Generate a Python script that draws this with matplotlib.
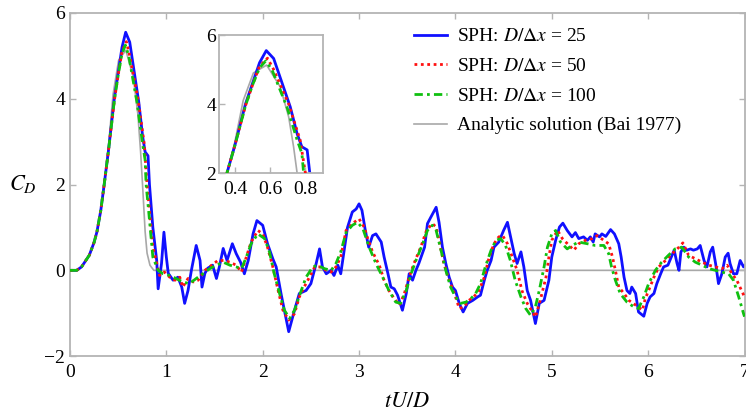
"""Drag coefficient history: SPH at three resolutions vs analytic solution."""

import matplotlib
matplotlib.use("Agg")
import matplotlib.pyplot as plt

plt.rcParams["font.family"] = ["Liberation Serif", "DejaVu Serif"]
plt.rcParams["mathtext.fontset"] = "stix"

# SPH: D/dx = 25
blue_t = [0.00, 0.07, 0.12, 0.20, 0.25, 0.28, 0.32, 0.355, 0.40, 0.46, 0.50, 0.54,
          0.578, 0.62, 0.714, 0.753, 0.78, 0.81, 0.825, 0.86, 0.90, 0.915, 0.95,
          0.975, 1.00, 1.02, 1.07, 1.12, 1.16, 1.19, 1.225, 1.26, 1.31, 1.35, 1.37,
          1.40, 1.43, 1.48, 1.52, 1.55, 1.59, 1.63, 1.685, 1.725, 1.77, 1.81, 1.85,
          1.90, 1.94, 2.00, 2.05, 2.105, 2.14, 2.19, 2.24, 2.27, 2.33, 2.38, 2.45,
          2.50, 2.555, 2.59, 2.62, 2.66, 2.71, 2.74, 2.78, 2.81, 2.85, 2.88, 2.93,
          2.97, 3.00, 3.03, 3.065, 3.10, 3.14, 3.175, 3.23, 3.26, 3.30, 3.33, 3.365,
          3.40, 3.45, 3.49, 3.52, 3.555, 3.59, 3.62, 3.68, 3.71, 3.745, 3.80, 3.83,
          3.865, 3.90, 3.935, 3.97, 4.00, 4.04, 4.08, 4.125, 4.18, 4.23, 4.26, 4.30,
          4.33, 4.37, 4.40, 4.45, 4.50, 4.54, 4.57, 4.61, 4.64, 4.68, 4.71, 4.745,
          4.78, 4.83, 4.87, 4.92, 4.97, 5.00, 5.04, 5.08, 5.115, 5.16, 5.21, 5.245,
          5.28, 5.33, 5.37, 5.40, 5.43, 5.45, 5.495, 5.52, 5.56, 5.61, 5.65, 5.695,
          5.72, 5.75, 5.78, 5.81, 5.83, 5.87, 5.90, 5.955, 5.99, 6.02, 6.06, 6.09,
          6.13, 6.16, 6.205, 6.24, 6.27, 6.30, 6.32, 6.34, 6.37, 6.40, 6.44, 6.47,
          6.51, 6.54, 6.58, 6.61, 6.645, 6.67, 6.70, 6.73, 6.765, 6.80, 6.83, 6.85,
          6.885, 6.92, 6.955, 6.99, 7.00]
blue_cd = [0.00, 0.00, 0.08, 0.35, 0.65, 0.90, 1.40, 2.00, 2.80, 4.00, 4.60, 5.20,
           5.55, 5.32, 3.92, 3.14, 2.76, 2.67, 2.00, 1.00, 0.23, -0.43, 0.16,
           0.89, 0.31, -0.07, -0.23, -0.16, -0.39, -0.77, -0.47, 0.00, 0.58, 0.23, -0.39,
           -0.07, 0.05, 0.12, -0.19, 0.08, 0.51, 0.23, 0.62, 0.39, 0.19, -0.08, 0.23,
           0.85, 1.16, 1.05, 0.62, 0.27, 0.08, -0.54, -1.09, -1.43, -0.93, -0.54, -0.47,
           -0.31, 0.16, 0.50, 0.08, -0.08, 0.00, -0.12, 0.12, -0.08, 0.54, 1.00, 1.36,
           1.43, 1.55, 1.40, 0.93, 0.54, 0.81, 0.85, 0.66, 0.31, -0.08, -0.39, -0.43,
           -0.58, -0.93, -0.54, -0.08, -0.23, 0.00, 0.16, 0.54, 1.09, 1.24, 1.47, 1.12,
           0.54, 0.16, -0.16, -0.39, -0.47, -0.77, -0.97, -0.77, -0.70, -0.62, -0.58, -0.23,
           0.00, 0.23, 0.54, 0.66, 0.93, 1.12, 0.81, 0.39, 0.16, 0.43, 0.08, -0.47,
           -0.70, -1.24, -0.77, -0.70, -0.23, 0.31, 0.70, 1.01, 1.10, 0.93, 0.78, 0.88,
           0.74, 0.78, 0.70, 0.78, 0.66, 0.85, 0.78, 0.85, 0.79, 0.95, 0.85, 0.62,
           0.31, -0.16, -0.47, -0.54, -0.39, -0.54, -0.97, -1.07, -0.77, -0.62, -0.54, -0.31,
           -0.08, 0.08, 0.12, 0.31, 0.47, 0.16, 0.00, 0.43, 0.54, 0.47, 0.50, 0.47,
           0.50, 0.58, 0.23, 0.08, 0.43, 0.54, 0.16, -0.31, -0.08, 0.31, 0.40, 0.16,
           -0.08, -0.08, 0.23, 0.08, 0.10]

# SPH: D/dx = 50
red_t = [0.00, 0.07, 0.12, 0.20, 0.25, 0.28, 0.32, 0.355, 0.40, 0.46, 0.50, 0.54,
         0.585, 0.62, 0.705, 0.77, 0.80, 0.82, 0.86, 0.90, 0.93, 0.98, 1.035, 1.09,
         1.14, 1.17, 1.225, 1.28, 1.33, 1.40, 1.47, 1.535, 1.60, 1.66, 1.725, 1.78,
         1.83, 1.88, 1.95, 2.00, 2.05, 2.105, 2.16, 2.21, 2.27, 2.33, 2.38, 2.43,
         2.485, 2.54, 2.59, 2.66, 2.71, 2.76, 2.81, 2.865, 2.93, 3.00, 3.055, 3.09,
         3.14, 3.21, 3.26, 3.31, 3.365, 3.42, 3.47, 3.52, 3.57, 3.64, 3.70, 3.76,
         3.80, 3.83, 3.88, 3.935, 3.99, 4.04, 4.09, 4.14, 4.19, 4.245, 4.30, 4.35,
         4.40, 4.45, 4.49, 4.54, 4.59, 4.64, 4.69, 4.745, 4.80, 4.83, 4.88, 4.94,
         4.97, 5.00, 5.06, 5.11, 5.18, 5.23, 5.28, 5.35, 5.42, 5.47, 5.54, 5.59,
         5.63, 5.66, 5.695, 5.75, 5.80, 5.87, 5.94, 5.97, 6.005, 6.06, 6.11, 6.18,
         6.25, 6.32, 6.36, 6.42, 6.49, 6.56, 6.63, 6.70, 6.765, 6.82, 6.87, 6.92,
         6.97, 7.00]
red_cd = [0.00, 0.00, 0.08, 0.35, 0.65, 0.90, 1.40, 2.00, 2.80, 3.95, 4.55, 5.10,
          5.33, 5.00, 4.00, 2.96, 2.00, 1.50, 0.55, 0.16, -0.12, -0.04, -0.16, -0.23,
          -0.16, -0.39, -0.19, -0.27, -0.23, 0.00, 0.12, 0.23, 0.23, 0.19, 0.12, -0.04,
          0.31, 0.66, 0.93, 0.85, 0.54, 0.08, -0.47, -0.93, -1.16, -1.01, -0.62, -0.39,
          -0.16, 0.08, 0.08, 0.00, -0.04, 0.08, 0.31, 0.93, 1.09, 1.20, 1.00, 0.74,
          0.43, 0.12, -0.23, -0.47, -0.66, -0.81, -0.54, -0.16, 0.16, 0.54, 0.93, 1.09,
          1.01, 0.70, 0.16, -0.23, -0.54, -0.89, -0.85, -0.70, -0.62, -0.47, -0.16, 0.31,
          0.62, 0.78, 0.81, 0.62, 0.31, 0.00, -0.47, -0.77, -0.97, -1.09, -0.70, -0.16,
          0.31, 0.70, 0.93, 0.74, 0.58, 0.47, 0.62, 0.70, 0.74, 0.81, 0.70, 0.62,
          0.31, 0.00, -0.39, -0.54, -0.70, -0.81, -0.93, -0.66, -0.47, -0.16, 0.08, 0.23,
          0.39, 0.54, 0.64, 0.35, 0.27, 0.19, 0.12, 0.08, 0.04, 0.12, -0.08, -0.23,
          -0.47, -0.62]

# SPH: D/dx = 100
green_t = [0.00, 0.07, 0.12, 0.20, 0.25, 0.28, 0.32, 0.355, 0.40, 0.46, 0.50, 0.54,
           0.575, 0.61, 0.695, 0.753, 0.78, 0.79, 0.82, 0.86, 0.915, 0.966, 1.035, 1.10,
           1.17, 1.24, 1.31, 1.38, 1.45, 1.52, 1.59, 1.66, 1.725, 1.78, 1.83, 1.88,
           1.95, 2.02, 2.07, 2.12, 2.175, 2.225, 2.28, 2.33, 2.40, 2.45, 2.52, 2.57,
           2.64, 2.71, 2.76, 2.81, 2.865, 2.93, 2.985, 3.04, 3.105, 3.175, 3.245, 3.31,
           3.38, 3.43, 3.49, 3.54, 3.59, 3.66, 3.71, 3.76, 3.80, 3.85, 3.90, 3.95,
           4.00, 4.055, 4.11, 4.16, 4.21, 4.26, 4.31, 4.37, 4.42, 4.47, 4.52, 4.57,
           4.62, 4.68, 4.73, 4.78, 4.83, 4.87, 4.92, 4.955, 5.00, 5.04, 5.09, 5.16,
           5.21, 5.28, 5.37, 5.45, 5.54, 5.59, 5.62, 5.66, 5.71, 5.78, 5.85, 5.90,
           5.955, 6.005, 6.075, 6.14, 6.21, 6.28, 6.35, 6.42, 6.49, 6.56, 6.63, 6.70,
           6.765, 6.835, 6.885, 6.94, 6.99, 7.00]
green_cd = [0.00, 0.00, 0.08, 0.35, 0.65, 0.90, 1.40, 2.00, 2.80, 3.95, 4.55, 5.05,
            5.25, 5.00, 3.92, 2.96, 2.57, 2.00, 1.30, 0.31, 0.00, -0.08, -0.12, -0.19,
            -0.27, -0.31, -0.19, -0.08, 0.04, 0.12, 0.19, 0.12, 0.08, 0.04, 0.31, 0.62,
            0.85, 0.74, 0.43, -0.08, -0.54, -0.93, -1.12, -0.93, -0.47, -0.16, 0.08, 0.12,
            0.04, 0.00, 0.16, 0.43, 0.88, 1.05, 1.12, 0.97, 0.54, 0.16, -0.16, -0.47,
            -0.74, -0.77, -0.47, -0.08, 0.23, 0.62, 0.93, 1.05, 0.93, 0.47, 0.00, -0.39,
            -0.62, -0.77, -0.74, -0.66, -0.54, -0.31, 0.08, 0.47, 0.70, 0.74, 0.58, 0.23,
            -0.23, -0.62, -0.89, -1.05, -0.85, -0.47, 0.08, 0.54, 0.85, 0.93, 0.66, 0.50,
            0.58, 0.66, 0.62, 0.58, 0.58, 0.39, 0.08, -0.23, -0.54, -0.74, -0.85, -0.89,
            -0.62, -0.31, 0.00, 0.19, 0.35, 0.50, 0.54, 0.31, 0.19, 0.12, 0.04, 0.00,
            -0.04, -0.08, -0.23, -0.62, -1.01, -1.08]

# Analytic solution (Bai 1977)
bai_t = [0.00, 0.07, 0.12, 0.20, 0.25, 0.28, 0.32, 0.355, 0.40, 0.447, 0.505, 0.58,
         0.657, 0.705, 0.733, 0.753, 0.78, 0.80, 0.83, 0.87, 7.00]
bai_cd = [0.00, 0.00, 0.08, 0.35, 0.65, 0.90, 1.40, 2.00, 2.90, 4.10, 4.90, 5.13,
          4.50, 3.63, 2.76, 2.00, 0.90, 0.40, 0.12, 0.00, 0.00]

SPINE = "#b4b4b4"


def draw(ax):
    ax.plot(bai_t, bai_cd, color="#a8a8a8", lw=1.2, zorder=1)
    hb, = ax.plot(blue_t, blue_cd, color="#1010ff", lw=2.0, zorder=2)
    hr, = ax.plot(red_t, red_cd, color="#ff1010", lw=2.0, ls=(0, (1, 1.3)), zorder=3)
    hg, = ax.plot(green_t, green_cd, color="#10c010", lw=2.0,
                  ls=(0, (3, 1.5, 1, 1.5)), zorder=4)
    for s in ax.spines.values():
        s.set_color(SPINE)
        s.set_linewidth(1.3)
    ax.tick_params(direction="in", color=SPINE, top=True, right=True,
                   labelsize=14, length=4, width=1)
    return hb, hr, hg


fig = plt.figure(figsize=(7.46, 4.18), dpi=100)
ax = fig.add_axes([0.0938, 0.148, 0.9042, 0.821])
hb, hr, hg = draw(ax)
hgray, = ax.plot([], [], color="#a8a8a8", lw=1.2)
ax.set_xlim(0, 7)
ax.set_ylim(-2, 6)
ax.set_xticks(range(0, 8))
ax.set_yticks([-2, 0, 2, 4, 6])
ax.tick_params(axis="x", pad=6)
ax.set_xlabel(r"$tU/D$", fontsize=16, labelpad=8)
ax.set_ylabel(r"$C_D$", fontsize=16, rotation=0)
ax.yaxis.set_label_coords(-0.07, 0.47)

ax.legend([hb, hr, hg, hgray],
          [r"SPH: $D/\Delta x$ = 25", r"SPH: $D/\Delta x$ = 50",
           r"SPH: $D/\Delta x$ = 100", "Analytic solution (Bai 1977)"],
          loc="upper left", bbox_to_anchor=(0.484, 1.008), frameon=False,
          fontsize=14, handlelength=1.7, handletextpad=0.5, labelspacing=0.62)

ins = fig.add_axes([0.2936, 0.5861, 0.1394, 0.330])
draw(ins)
ins.set_xlim(0.31, 0.90)
ins.set_ylim(2, 6)
ins.set_xticks([0.4, 0.6, 0.8])
ins.set_yticks([2, 4, 6])
ins.tick_params(top=False, right=False, pad=2)
ins.tick_params(axis="x", pad=6)

fig.savefig("out.png", dpi=100)
